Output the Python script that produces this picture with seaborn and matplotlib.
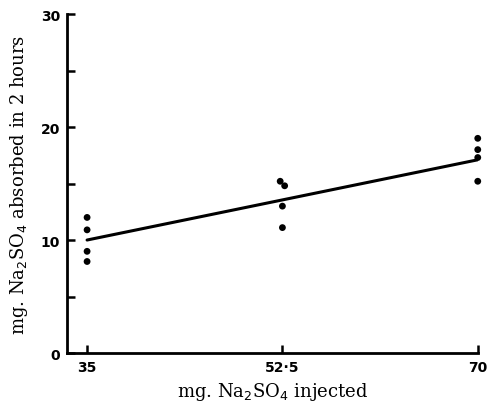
import matplotlib
matplotlib.use("Agg")
import matplotlib.pyplot as plt
import seaborn as sns
import pandas as pd

# Data
dose_x = [35, 35, 35, 35, 52.3, 52.7, 52.5, 52.5, 70, 70, 70, 70]
absorbed_y = [12.0, 10.9, 9.0, 8.1, 15.2, 14.8, 13.0, 11.1, 19.0, 18.0, 17.3, 15.2]
fit_x = [35, 70]
fit_y = [10.0, 17.1]
x_ticks = [35, 52.5, 70]
x_tick_labels = ["35", "52·5", "70"]
y_ticks = [0, 10, 20, 30]
y_minor = [5, 15, 25]

sns.set_style("ticks")
plt.rcParams["font.family"] = ["DejaVu Serif"]
plt.rcParams["text.color"] = "black"
plt.rcParams["axes.labelcolor"] = "black"
plt.rcParams["xtick.color"] = "black"
plt.rcParams["ytick.color"] = "black"

pts = pd.DataFrame({"dose": dose_x, "absorbed": absorbed_y})
fit = pd.DataFrame({"dose": fit_x, "absorbed": fit_y})

fig = plt.figure(figsize=(4.89, 4.06), dpi=100)
ax = fig.add_axes([0.137, 0.128, 0.840, 0.835])

sns.lineplot(data=fit, x="dose", y="absorbed", color="black", linewidth=2.2, ax=ax)
sns.scatterplot(data=pts, x="dose", y="absorbed", color="black", s=24, edgecolor="none",
                clip_on=False, ax=ax)

ax.set_xlim(33.2, 70)
ax.set_ylim(0, 30)
ax.set_xticks(x_ticks)
ax.set_xticklabels(x_tick_labels, fontsize=10, fontweight="bold", family="DejaVu Sans")
ax.set_yticks(y_ticks)
ax.set_yticks(y_minor, minor=True)
ax.set_yticklabels([str(v) for v in y_ticks], fontsize=10, fontweight="bold", family="DejaVu Sans")

ax.tick_params(axis="both", which="both", direction="in", width=1.8, color="black", labelcolor="black")
ax.tick_params(axis="both", which="major", length=6, pad=5)
ax.tick_params(axis="y", which="minor", length=6)

for s in ["top", "right"]:
    ax.spines[s].set_visible(False)
for s in ["left", "bottom"]:
    ax.spines[s].set_linewidth(2)
    ax.spines[s].set_color("black")

ax.set_xlabel("mg. Na$_2$SO$_4$ injected", fontsize=13, labelpad=4, color="black")
ax.set_ylabel("mg. Na$_2$SO$_4$ absorbed in 2 hours", fontsize=13, labelpad=8, color="black")

fig.savefig("out.png", dpi=100)
